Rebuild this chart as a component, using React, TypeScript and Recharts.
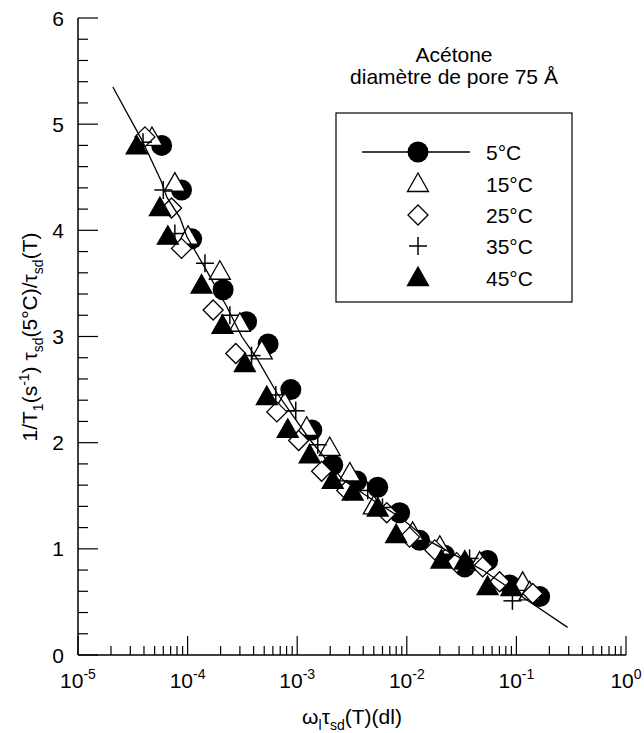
import React from 'react';
import { ScatterChart, Scatter, XAxis, YAxis } from 'recharts';

const FONT = '"Liberation Sans", Arial, Helvetica, sans-serif';
const FS = 21;
const FS_SMALL = 14;

// ---- tick labels ----
const xMajorTicks = [1e-5, 1e-4, 1e-3, 1e-2, 1e-1, 1];
const xTickExponents = ['-5', '-4', '-3', '-2', '-1', '0'];
const yMajorTicks = [0, 1, 2, 3, 4, 5, 6];

// ---- series (x = ω_l τ_sd(T), y = normalised 1/T1) ----
const c5x = [5.8e-5, 8.8e-5, 1.09e-4, 2.11e-4, 3.45e-4, 5.43e-4, 8.75e-4, 1.36e-3, 2.11e-3, 3.49e-3, 5.43e-3, 8.6e-3, 1.31e-2, 2.21e-2, 3.38e-2, 5.46e-2, 8.67e-2, 0.163];
const c5y = [4.80, 4.38, 3.92, 3.44, 3.14, 2.93, 2.50, 2.12, 1.79, 1.64, 1.58, 1.34, 1.08, 0.94, 0.83, 0.89, 0.66, 0.55];

const c15x = [4.73e-5, 7.65e-5, 1.01e-4, 1.97e-4, 3.0e-4, 4.75e-4, 7.7e-4, 1.22e-3, 1.98e-3, 3.02e-3, 5.0e-3, 1.13e-2, 2.0e-2, 4.62e-2, 0.114, 0.132];
const c15y = [4.87, 4.44, 3.94, 3.61, 3.12, 2.86, 2.37, 2.14, 1.95, 1.71, 1.40, 1.15, 1.02, 0.87, 0.68, 0.59];

const c25x = [4.08e-5, 7.14e-5, 8.8e-5, 1.71e-4, 2.75e-4, 6.52e-4, 1.03e-3, 1.67e-3, 2.83e-3, 6.56e-3, 1.06e-2, 1.8e-2, 2.85e-2, 4.92e-2, 7.03e-2, 0.141];
const c25y = [4.88, 4.21, 3.83, 3.25, 2.84, 2.29, 2.02, 1.73, 1.55, 1.34, 1.11, 0.99, 0.87, 0.83, 0.69, 0.58];

const c35x = [3.92e-5, 6.0e-5, 7.65e-5, 1.44e-4, 2.43e-4, 3.83e-4, 6.38e-4, 9.7e-4, 1.54e-3, 4.4e-3, 6.0e-3, 3.74e-2, 9.2e-2];
const c35y = [4.83, 4.38, 3.97, 3.69, 3.20, 2.82, 2.45, 2.30, 1.98, 1.55, 1.39, 0.91, 0.51];

const c45x = [3.43e-5, 5.59e-5, 6.6e-5, 1.34e-4, 2.08e-4, 3.33e-4, 5.28e-4, 8.2e-4, 1.30e-3, 2.11e-3, 3.21e-3, 5.43e-3, 8.0e-3, 2.07e-2, 3.38e-2, 5.46e-2, 9.0e-2];
const c45y = [4.79, 4.21, 3.94, 3.48, 3.10, 2.74, 2.43, 2.12, 1.88, 1.64, 1.53, 1.38, 1.13, 0.89, 0.88, 0.64, 0.63];

// fitted curve
const fitX = [2.08e-5, 3.83e-5, 5.71e-5, 6.48e-5, 8.51e-5, 9.86e-5, 1.53e-4, 2.28e-4, 3.12e-4, 4.37e-4, 6.51e-4, 1.30e-3, 2.61e-3, 4.89e-3, 8.61e-3, 1.62e-2, 4.92e-2, 0.124, 0.293];
const fitY = [5.35, 4.85, 4.47, 4.31, 4.12, 3.94, 3.60, 3.28, 3.00, 2.78, 2.47, 2.03, 1.65, 1.46, 1.30, 1.07, 0.80, 0.52, 0.26];

const seriesLabels = ['5°C', '15°C', '25°C', '35°C', '45°C'];

const zip = (xs: number[], ys: number[]) => xs.map((x, i) => ({ x, y: ys[i] }));

const xTicksAll: number[] = (() => {
  const out: number[] = [];
  for (let d = -5; d <= -1; d++) {
    for (let m = 1; m <= 9; m++) out.push(Number((m * Math.pow(10, d)).toPrecision(6)));
  }
  out.push(1);
  return out;
})();
const yTicksAll: number[] = (() => {
  const out: number[] = [];
  for (let i = 0; i <= 30; i++) out.push(Number((i * 0.2).toFixed(1)));
  return out;
})();

// ---- marker shapes ----
const SW = 1.3;
const CircleM = ({ cx, cy }: any) => <circle cx={cx} cy={cy} r={10.5} fill="#000" />;
const TriM = ({ cx, cy, filled }: any) => (
  <polygon
    points={`${cx},${cy - 11} ${cx - 10.5},${cy + 7.5} ${cx + 10.5},${cy + 7.5}`}
    fill={filled ? '#000' : '#fff'}
    stroke="#000"
    strokeWidth={SW}
    strokeLinejoin="miter"
  />
);
const DiamondM = ({ cx, cy }: any) => (
  <polygon
    points={`${cx},${cy - 10} ${cx + 10},${cy} ${cx},${cy + 10} ${cx - 10},${cy}`}
    fill="#fff"
    stroke="#000"
    strokeWidth={SW}
  />
);
const CrossM = ({ cx, cy }: any) => (
  <g stroke="#000" strokeWidth={1.5}>
    <line x1={cx - 9} x2={cx + 9} y1={cy} y2={cy} />
    <line x1={cx} x2={cx} y1={cy - 9} y2={cy + 9} />
  </g>
);

const isMajor = (v: number) => {
  const lg = Math.log10(v);
  return Math.abs(lg - Math.round(lg)) < 1e-6;
};

const XTick = (props: any) => {
  const { x, y, payload } = props;
  const v = payload.value;
  const major = isMajor(v);
  const idx = xMajorTicks.findIndex((t) => Math.abs(Math.log10(t) - Math.log10(v)) < 1e-6);
  return (
    <g>
      <line x1={x} x2={x} y1={y} y2={y - (major ? 19 : 9)} stroke="#000" strokeWidth={1.2} />
      {major && idx >= 0 && (
        <text x={x} y={y + 33} textAnchor="middle" fontSize={FS} fontFamily={FONT} fill="#000">
          10<tspan dy={-9} fontSize={FS_SMALL}>{xTickExponents[idx]}</tspan>
        </text>
      )}
    </g>
  );
};

const YTick = (props: any) => {
  const { x, y, payload } = props;
  const v = payload.value;
  const major = yMajorTicks.some((t) => Math.abs(t - v) < 1e-6);
  return (
    <g>
      <line x1={x} x2={x + (major ? 20 : 10)} y1={y} y2={y} stroke="#000" strokeWidth={1.2} />
      {major && (
        <text x={x - 14} y={y + 7.5} textAnchor="end" fontSize={FS} fontFamily={FONT} fill="#000">
          {v}
        </text>
      )}
    </g>
  );
};

const legendRows = [
  { label: seriesLabels[0], y: 152 },
  { label: seriesLabels[1], y: 184 },
  { label: seriesLabels[2], y: 215 },
  { label: seriesLabels[3], y: 246 },
  { label: seriesLabels[4], y: 278 },
];

export default function App() {
  const d5 = zip(c5x, c5y);
  const d15 = zip(c15x, c15y);
  const d25 = zip(c25x, c25y);
  const d35 = zip(c35x, c35y);
  const d45 = zip(c45x, c45y);
  const fit = zip(fitX, fitY);
  const symX = 418;
  return (
    <div style={{ position: 'absolute', left: 0, top: 0, width: 644, height: 733, background: '#fff' }}>
      <ScatterChart width={644} height={733} margin={{ top: 18, right: 18, left: 18, bottom: 38 }}>
        <XAxis
          xAxisId="b"
          dataKey="x"
          type="number"
          scale="log"
          domain={[1e-5, 1]}
          allowDataOverflow
          ticks={xTicksAll}
          interval={0}
          tick={<XTick />}
          tickLine={false}
          tickSize={0}
          tickMargin={0}
          height={40}
          axisLine={{ stroke: '#000', strokeWidth: 1.5 }}
        />
        <XAxis
          xAxisId="t"
          orientation="top"
          dataKey="x"
          type="number"
          scale="log"
          domain={[1e-5, 1]}
          allowDataOverflow
          tick={false}
          tickLine={false}
          height={0}
          axisLine={{ stroke: '#000', strokeWidth: 1.5 }}
        />
        <YAxis
          yAxisId="l"
          dataKey="y"
          type="number"
          domain={[0, 6]}
          allowDataOverflow
          ticks={yTicksAll}
          interval={0}
          tick={<YTick />}
          tickLine={false}
          tickSize={0}
          tickMargin={0}
          width={60}
          axisLine={{ stroke: '#000', strokeWidth: 1.5 }}
        />
        <YAxis
          yAxisId="r"
          orientation="right"
          dataKey="y"
          type="number"
          domain={[0, 6]}
          tick={false}
          tickLine={false}
          width={0}
          axisLine={{ stroke: '#000', strokeWidth: 1.5 }}
        />
        <Scatter xAxisId="b" yAxisId="l" data={d5} isAnimationActive={false} shape={(p: any) => <CircleM cx={p.cx} cy={p.cy} />} />
        <Scatter xAxisId="b" yAxisId="l" data={d15} isAnimationActive={false} shape={(p: any) => <TriM cx={p.cx} cy={p.cy} />} />
        <Scatter xAxisId="b" yAxisId="l" data={d25} isAnimationActive={false} shape={(p: any) => <DiamondM cx={p.cx} cy={p.cy} />} />
        <Scatter xAxisId="b" yAxisId="l" data={d35} isAnimationActive={false} shape={(p: any) => <CrossM cx={p.cx} cy={p.cy} />} />
        <Scatter xAxisId="b" yAxisId="l" data={d45} isAnimationActive={false} shape={(p: any) => <TriM cx={p.cx} cy={p.cy} filled />} />
        <Scatter
          xAxisId="b"
          yAxisId="l"
          data={fit}
          isAnimationActive={false}
          line={{ stroke: '#000', strokeWidth: 1.3 }}
          shape={() => <g />}
        />
      </ScatterChart>
      <svg width={644} height={733} style={{ position: 'absolute', left: 0, top: 0, pointerEvents: 'none' }}>
        <g fontFamily={FONT} fill="#000">
          <text x={454} y={62} textAnchor="middle" fontSize={FS}>Acétone</text>
          <text x={454} y={84} textAnchor="middle" fontSize={FS}>diamètre de pore 75 Å</text>
        </g>
        <rect x={336} y={113} width={236} height={189} fill="#fff" stroke="#000" strokeWidth={1.2} />
        <line x1={362} x2={470} y1={legendRows[0].y} y2={legendRows[0].y} stroke="#000" strokeWidth={1.3} />
        <CircleM cx={symX} cy={legendRows[0].y} />
        <TriM cx={symX} cy={legendRows[1].y} />
        <DiamondM cx={symX} cy={legendRows[2].y} />
        <CrossM cx={symX} cy={legendRows[3].y} />
        <TriM cx={symX} cy={legendRows[4].y} filled />
        {legendRows.map((r) => (
          <text key={r.label} x={486} y={r.y + 7.5} fontSize={FS} fontFamily={FONT} fill="#000">
            {r.label}
          </text>
        ))}
        <text transform="translate(37,337) rotate(-90)" textAnchor="middle" fontSize={FS} fontFamily={FONT} fill="#000">
          1/T<tspan dy={6} fontSize={FS_SMALL}>1</tspan>
          <tspan dy={-6}>(s</tspan>
          <tspan dy={-8} fontSize={FS_SMALL}>-1</tspan>
          <tspan dy={8}>) τ</tspan>
          <tspan dy={6} fontSize={FS_SMALL}>sd</tspan>
          <tspan dy={-6}>(5°C)/τ</tspan>
          <tspan dy={6} fontSize={FS_SMALL}>sd</tspan>
          <tspan dy={-6}>(T)</tspan>
        </text>
        <text x={352} y={724} textAnchor="middle" fontSize={FS} fontFamily={FONT} fill="#000">
          ω<tspan dy={6} fontSize={FS_SMALL}>l</tspan>
          <tspan dy={-6}>τ</tspan>
          <tspan dy={6} fontSize={FS_SMALL}>sd</tspan>
          <tspan dy={-6}>(T)(dl)</tspan>
        </text>
      </svg>
    </div>
  );
}
